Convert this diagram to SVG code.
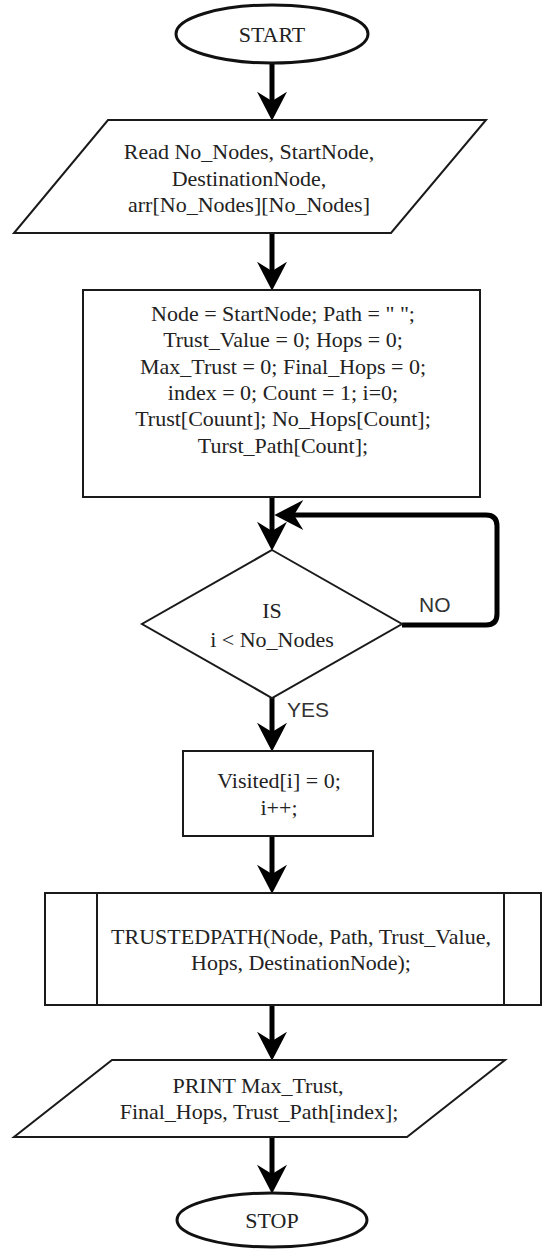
<svg xmlns="http://www.w3.org/2000/svg" width="543" height="1249" viewBox="0 0 543 1249">
  <style>
    .shape { fill: #ffffff; stroke: #1a1a1a; stroke-width: 2; }
    .term { fill: #ffffff; stroke: #111111; stroke-width: 3; }
    .lbl { font-family: "Liberation Serif", "Times New Roman", serif; font-size: 22px; fill: #222222; text-anchor: middle; }
    .edge-lbl { font-family: "Liberation Sans", Arial, sans-serif; font-size: 21px; fill: #333333; }
    .flow { fill: none; stroke: #000000; stroke-width: 5; stroke-linejoin: round; }
  </style>
  <defs>
    <marker id="arrow" markerUnits="userSpaceOnUse" markerWidth="30" markerHeight="30" viewBox="0 0 28 29" refX="9" refY="14.5" orient="auto">
      <path d="M0,0 L28,14.5 L0,29 L9,14.5 Z" fill="#000000"/>
    </marker>
  </defs>

  <!-- connectors -->
  <g id="connectors">
    <path class="flow" d="M272,63 V101" marker-end="url(#arrow)"/>
    <path class="flow" d="M272,233 V271" marker-end="url(#arrow)"/>
    <path class="flow" d="M272,497 V531" marker-end="url(#arrow)"/>
    <path class="flow" d="M402,625 H486 Q497,625 497,614 V526 Q497,515 486,515 H294" marker-end="url(#arrow)"/>
    <path class="flow" d="M272,697 V732" marker-end="url(#arrow)"/>
    <path class="flow" d="M272,836 V874" marker-end="url(#arrow)"/>
    <path class="flow" d="M272,1005 V1041" marker-end="url(#arrow)"/>
    <path class="flow" d="M272,1137 V1174" marker-end="url(#arrow)"/>
    <text class="edge-lbl" x="419" y="612">NO</text>
    <text class="edge-lbl" x="287" y="717">YES</text>
  </g>

  <!-- start terminal -->
  <g id="start">
    <ellipse class="term" cx="272" cy="34" rx="96" ry="29"/>
    <text class="lbl" x="272" y="42">START</text>
  </g>

  <!-- input -->
  <g id="read-input">
    <polygon class="shape" points="108,120 486,120 391,233 14,233"/>
    <text class="lbl" x="249" y="159">Read No_Nodes, StartNode,</text>
    <text class="lbl" x="249" y="185.5">DestinationNode,</text>
    <text class="lbl" x="249" y="212">arr[No_Nodes][No_Nodes]</text>
  </g>

  <!-- initialisation -->
  <g id="init">
    <rect class="shape" x="83" y="290" width="397" height="207"/>
    <text class="lbl" x="283" y="321">Node = StartNode; Path = " ";</text>
    <text class="lbl" x="283" y="347">Trust_Value = 0; Hops = 0;</text>
    <text class="lbl" x="283" y="374">Max_Trust = 0; Final_Hops = 0;</text>
    <text class="lbl" x="283" y="400">index = 0; Count = 1; i=0;</text>
    <text class="lbl" x="283" y="426">Trust[Couunt]; No_Hops[Count];</text>
    <text class="lbl" x="283" y="453">Turst_Path[Count];</text>
  </g>

  <!-- loop condition -->
  <g id="condition">
    <polygon class="shape" points="272,550 402,624 272,698 142,624"/>
    <text class="lbl" x="272" y="618">IS</text>
    <text class="lbl" x="272" y="647">i &lt; No_Nodes</text>
  </g>

  <!-- loop body -->
  <g id="visited">
    <rect class="shape" x="183" y="751" width="190" height="85"/>
    <text class="lbl" x="279" y="788">Visited[i] = 0;</text>
    <text class="lbl" x="279" y="815">i++;</text>
  </g>

  <!-- predefined process -->
  <g id="trustedpath">
    <rect class="shape" x="45" y="893" width="496" height="112"/>
    <line class="shape" x1="97" y1="893" x2="97" y2="1005"/>
    <line class="shape" x1="504" y1="893" x2="504" y2="1005"/>
    <text class="lbl" x="301" y="944">TRUSTEDPATH(Node, Path, Trust_Value,</text>
    <text class="lbl" x="301" y="970">Hops, DestinationNode);</text>
  </g>

  <!-- output -->
  <g id="print-output">
    <polygon class="shape" points="112,1060 505,1060 407,1137 14,1137"/>
    <text class="lbl" x="258" y="1093">PRINT Max_Trust,</text>
    <text class="lbl" x="259" y="1119">Final_Hops, Trust_Path[index];</text>
  </g>

  <!-- stop terminal -->
  <g id="stop">
    <ellipse class="term" cx="272" cy="1220" rx="95" ry="27"/>
    <text class="lbl" x="272" y="1228">STOP</text>
  </g>
</svg>
